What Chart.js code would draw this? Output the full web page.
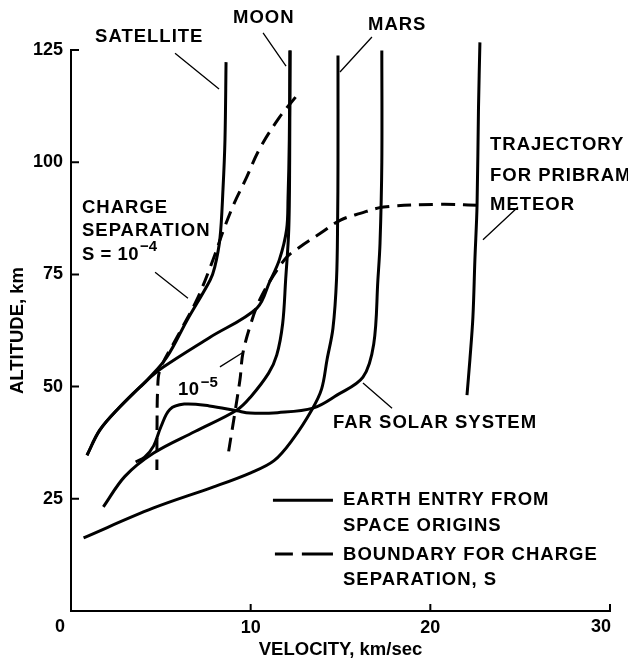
<!DOCTYPE html>
<html>
<head>
<meta charset="utf-8">
<script src="https://cdn.jsdelivr.net/npm/chart.js@4.4.1/dist/chart.umd.min.js"></script>
<style>
  html, body { margin: 0; padding: 0; background: #fff; }
  #wrap { width: 628px; height: 659px; }
</style>
</head>
<body>
<div id="wrap"><canvas id="c" width="628" height="659"></canvas></div>
<script>
// Earth entry trajectories: velocity (km/sec) against altitude (km)
const satelliteVel = [8.63, 8.57, 8.46, 8.29, 8.0, 7.74, 6.46, 5.34, 4.23, 3.84, 2.7, 1.6, 0.89];
const satelliteAlt = [122.3, 105, 94, 83, 76.6, 73.7, 64.8, 56.6, 51.4, 49.9, 45.4, 40.3, 34.7];

const moonUpperVel = [12.19, 12.15, 12.08, 12.0, 11.6, 11.05, 10.35, 7.7, 5.12, 4.23, 2.7, 1.6, 0.89];
const moonUpperAlt = [124.9, 105, 92, 85, 78.3, 73.3, 67.5, 60.9, 54.3, 51.4, 45.4, 40.3, 34.7];

const moonLowerVel = [12.19, 12.17, 12.12, 11.95, 11.78, 11.45, 11.0, 10.0, 9.24, 6.9, 4.6, 3.0, 1.8];
const moonLowerAlt = [124.9, 100, 85, 74, 64, 57, 53, 47.7, 44.8, 40.0, 35.2, 30.0, 23.2];

const marsVel = [14.86, 14.86, 14.84, 14.78, 14.58, 14.25, 13.95, 13.4, 12.35, 11.3, 10.0, 7.9, 4.56, 0.7];
const marsAlt = [123.8, 100, 87, 74, 63, 56, 49.5, 44.8, 38.3, 33.5, 30.8, 27.6, 22.9, 16.3];

const farSolarVel = [17.3, 17.3, 17.2, 17.08, 16.85, 16.25, 14.8, 13.47, 11.5, 9.96, 9.24, 7.7, 6.3, 5.5, 5.0, 4.6, 4.1, 3.6];
const farSolarAlt = [124.9, 100, 82, 73.7, 59.5, 52.1, 48.1, 45.2, 44.2, 44.1, 44.6, 45.7, 46.1, 44.9, 41.0, 36.8, 34.3, 33.2];

const pribramVel = [22.76, 22.68, 22.6, 22.48, 22.37, 22.2, 22.04];
const pribramAlt = [126.7, 112, 90.4, 78.2, 65.5, 55.9, 48.1];

// Boundaries for charge separation S
const chargeS4Vel = [12.5, 11.6, 10.5, 9.7, 9.1, 8.5, 7.9, 7.0, 5.9, 4.95, 4.82, 4.79, 4.78];
const chargeS4Alt = [114.5, 110, 103, 96, 91, 85, 78.2, 69.3, 61.0, 53.7, 49, 42, 31.4];

const chargeS5Vel = [22.6, 20.5, 17.4, 16.1, 15.0, 13.9, 12.74, 12.0, 11.07, 10.5, 10.07, 9.57, 9.4, 8.74];
const chargeS5Alt = [90.4, 90.6, 90.0, 88.6, 87.1, 84.2, 81.1, 78.8, 73.5, 69.3, 64.8, 57.5, 51.4, 34.7];

const velocityTicks = [0, 10, 20, 30];
const altitudeTicks = [25, 50, 75, 100, 125];

const FONT = '"Liberation Sans", Arial, Helvetica, sans-serif';

const pairs = (vel, alt) => vel.map((v, i) => ({ x: v, y: alt[i] }));
const solidLine = (label, vel, alt) => ({
  label, data: pairs(vel, alt), showLine: true, borderColor: '#000', borderWidth: 3,
  pointRadius: 0, tension: 0.35, clip: false, fill: false, borderCapStyle: 'butt'
});
const dashedLine = (label, vel, alt) => ({
  label, data: pairs(vel, alt), showLine: true, borderColor: '#000', borderWidth: 3,
  borderDash: [14, 8], pointRadius: 0, tension: 0.35, clip: false, fill: false, borderCapStyle: 'butt'
});

// Labels, leader lines, inward tick marks and the key
const decorations = {
  id: 'decorations',
  afterDraw(chart) {
    const { ctx, scales: { x, y } } = chart;
    const px = v => x.getPixelForValue(v);
    const py = v => y.getPixelForValue(v);
    ctx.save();
    ctx.strokeStyle = '#000';
    ctx.fillStyle = '#000';

    // inward tick marks
    ctx.lineWidth = 2;
    ctx.beginPath();
    altitudeTicks.forEach(t => { ctx.moveTo(px(0), py(t)); ctx.lineTo(px(0) + 8, py(t)); });
    velocityTicks.slice(1).forEach(t => { ctx.moveTo(px(t), py(0)); ctx.lineTo(px(t), py(0) - 7); });
    ctx.stroke();

    // end labels of the velocity axis
    ctx.font = 'bold 18px ' + FONT;
    ctx.textBaseline = 'middle';
    ctx.textAlign = 'center';
    ctx.fillText('0', px(0) - 11, py(0) + 16);
    ctx.fillText('30', px(30) - 9, py(0) + 16);

    // leader lines
    const leaders = [
      [5.79, 124.3, 8.24, 116.3],
      [10.69, 128.8, 11.97, 121.4],
      [16.75, 127.9, 14.97, 120.1],
      [24.88, 90.0, 22.93, 82.7],
      [4.68, 75.5, 6.51, 69.7],
      [8.29, 54.4, 9.52, 57.5],
      [16.25, 50.8, 17.87, 45.2]
    ];
    ctx.lineWidth = 1.3;
    ctx.beginPath();
    leaders.forEach(([a, b, c, d]) => { ctx.moveTo(px(a), py(b)); ctx.lineTo(px(c), py(d)); });
    ctx.stroke();

    // text labels
    const label = (text, vx, vy, size = 18.5, spacing = 1) => {
      ctx.font = 'bold ' + size + 'px ' + FONT;
      ctx.letterSpacing = spacing + 'px';
      ctx.textAlign = 'left';
      ctx.textBaseline = 'middle';
      ctx.fillText(text, px(vx), py(vy));
      return ctx.measureText(text).width;
    };
    label('SATELLITE', 1.34, 127.9);
    label('MOON', 9.02, 132.1);
    label('MARS', 16.53, 130.7);
    label('TRAJECTORY', 23.32, 103.8);
    label('FOR PRIBRAM', 23.32, 96.9);
    label('METEOR', 23.32, 90.5);
    label('CHARGE', 0.61, 89.9);
    label('SEPARATION', 0.61, 84.8);
    const w4 = label('S = 10', 0.61, 79.3, 18.5, 0.5);
    ctx.font = 'bold 15px ' + FONT;
    ctx.letterSpacing = '0px';
    ctx.fillText('\u22124', px(0.61) + w4 + 1, py(79.3) - 8);
    const w5 = label('10', 5.96, 49.2, 18.5, 0.5);
    ctx.font = 'bold 15px ' + FONT;
    ctx.letterSpacing = '0px';
    ctx.fillText('\u22125', px(5.96) + w5 + 1, py(49.2) - 7);
    label('FAR SOLAR SYSTEM', 14.58, 41.8);

    // key
    label('EARTH ENTRY FROM', 15.14, 24.7);
    label('SPACE ORIGINS', 15.14, 19.05);
    label('BOUNDARY FOR CHARGE', 15.14, 12.48);
    label('SEPARATION, S', 15.14, 7.02);
    ctx.lineWidth = 3;
    ctx.beginPath();
    ctx.moveTo(px(11.24), py(24.7)); ctx.lineTo(px(14.58), py(24.7));
    ctx.moveTo(px(11.35), py(12.7)); ctx.lineTo(px(12.35), py(12.7));
    ctx.moveTo(px(12.85), py(12.7)); ctx.lineTo(px(14.58), py(12.7));
    ctx.stroke();
    ctx.restore();
  }
};

const tickFont = { family: FONT, weight: 'bold', size: 18 };
const titleFont = { family: FONT, weight: 'bold', size: 18.5, lineHeight: 1 };

new Chart(document.getElementById('c'), {
  type: 'scatter',
  data: {
    datasets: [
      solidLine('Satellite', satelliteVel, satelliteAlt),
      solidLine('Moon', moonUpperVel, moonUpperAlt),
      solidLine('Moon (low)', moonLowerVel, moonLowerAlt),
      solidLine('Mars', marsVel, marsAlt),
      solidLine('Far solar system', farSolarVel, farSolarAlt),
      solidLine('Pribram meteor', pribramVel, pribramAlt),
      dashedLine('S = 10^-4', chargeS4Vel, chargeS4Alt),
      dashedLine('S = 10^-5', chargeS5Vel, chargeS5Alt)
    ]
  },
  options: {
    responsive: false,
    animation: false,
    devicePixelRatio: 1,
    layout: { padding: { top: 50, right: 18, bottom: 0, left: 0 } },
    plugins: { legend: { display: false }, tooltip: { enabled: false } },
    scales: {
      x: {
        type: 'linear', position: 'bottom', min: 0, max: 30,
        grid: { display: false, drawTicks: false },
        border: { display: true, color: '#000', width: 2 },
        ticks: {
          stepSize: 10, color: '#000', font: tickFont, padding: 6, maxRotation: 0,
          callback: v => (v === 0 || v === 30) ? '' : v
        },
        title: { display: true, text: 'VELOCITY, km/sec', color: '#000', font: titleFont, padding: { top: 0, bottom: 0 } },
        afterFit: s => { s.height = 48; }
      },
      y: {
        type: 'linear', position: 'left', min: 0, max: 125,
        grid: { display: false, drawTicks: false },
        border: { display: true, color: '#000', width: 2 },
        ticks: {
          stepSize: 25, color: '#000', font: tickFont, padding: 8,
          callback: v => v === 0 ? '' : v
        },
        title: { display: true, text: 'ALTITUDE, km', color: '#000', font: titleFont, padding: { top: 9, bottom: 0 } },
        afterFit: s => { s.width = 71; }
      }
    }
  },
  plugins: [decorations]
});
</script>
</body>
</html>
